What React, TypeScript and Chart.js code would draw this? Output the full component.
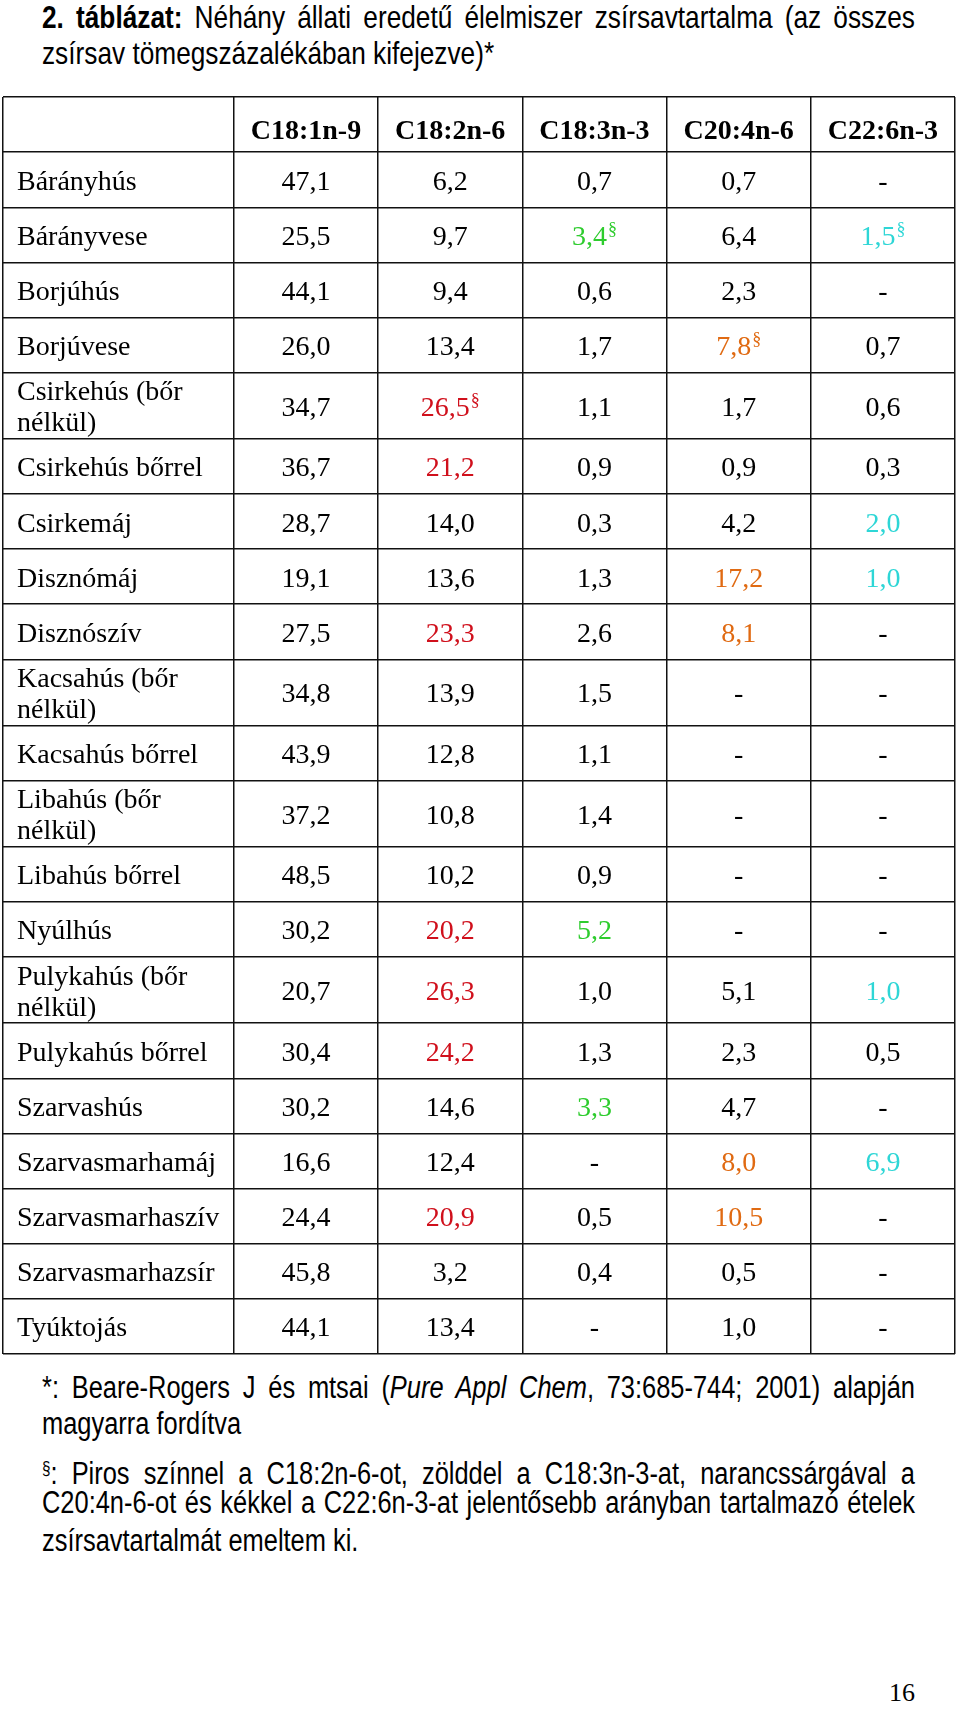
import React, { useEffect, useRef } from "react";
import { Chart, registerables } from "chart.js";

Chart.register(...registerables);

// ---------- data ----------
const columns = ["C18:1n-9", "C18:2n-6", "C18:3n-3", "C20:4n-6", "C22:6n-3"];

const foods = [
  "Bárányhús",
  "Bárányvese",
  "Borjúhús",
  "Borjúvese",
  "Csirkehús (bőr nélkül)",
  "Csirkehús bőrrel",
  "Csirkemáj",
  "Disznómáj",
  "Disznószív",
  "Kacsahús (bőr nélkül)",
  "Kacsahús bőrrel",
  "Libahús (bőr nélkül)",
  "Libahús bőrrel",
  "Nyúlhús",
  "Pulykahús (bőr nélkül)",
  "Pulykahús bőrrel",
  "Szarvashús",
  "Szarvasmarhamáj",
  "Szarvasmarhaszív",
  "Szarvasmarhazsír",
  "Tyúktojás",
];

const c18_1 = [47.1, 25.5, 44.1, 26.0, 34.7, 36.7, 28.7, 19.1, 27.5, 34.8, 43.9, 37.2, 48.5, 30.2, 20.7, 30.4, 30.2, 16.6, 24.4, 45.8, 44.1];
const c18_2 = [6.2, 9.7, 9.4, 13.4, 26.5, 21.2, 14.0, 13.6, 23.3, 13.9, 12.8, 10.8, 10.2, 20.2, 26.3, 24.2, 14.6, 12.4, 20.9, 3.2, 13.4];
const c18_3 = [0.7, 3.4, 0.6, 1.7, 1.1, 0.9, 0.3, 1.3, 2.6, 1.5, 1.1, 1.4, 0.9, 5.2, 1.0, 1.3, 3.3, null, 0.5, 0.4, null];
const c20_4 = [0.7, 6.4, 2.3, 7.8, 1.7, 0.9, 4.2, 17.2, 8.1, null, null, null, null, null, 5.1, 2.3, 4.7, 8.0, 10.5, 0.5, 1.0];
const c22_6 = [null, 1.5, null, 0.7, 0.6, 0.3, 2.0, 1.0, null, null, null, null, null, null, 1.0, 0.5, null, 6.9, null, null, null];

// highlighted cells (row indices) per column
const hi18_1: number[] = [];
const hi18_2 = [4, 5, 8, 13, 14, 15, 18];
const hi18_3 = [1, 13, 16];
const hi20_4 = [3, 7, 8, 17, 18];
const hi22_6 = [1, 6, 7, 14, 17];

// cells marked with "§"
const mark18_1: number[] = [];
const mark18_2 = [4];
const mark18_3 = [1];
const mark20_4 = [3];
const mark22_6 = [1];

const columnValues = [c18_1, c18_2, c18_3, c20_4, c22_6];
const columnHighlights = [hi18_1, hi18_2, hi18_3, hi20_4, hi22_6];
const columnMarks = [mark18_1, mark18_2, mark18_3, mark20_4, mark22_6];
const highlightColors = ["#000000", "#d0101c", "#2ecc2e", "#e06a12", "#2ed6d6"];

// ---------- style / layout ----------
const SERIF = '"Liberation Serif", "Times New Roman", serif';
const SANS = '"Liberation Sans", Arial, sans-serif';
const LINE = "#111111";
const LABEL_SPAN = 1.6; // width of food column in data-column units
const LABEL_MAX_W = 210;
const fmt = (v: number | null) => (v == null ? "-" : v.toFixed(1).replace(".", ","));

function wrapLabel(ctx: CanvasRenderingContext2D, text: string): string[] {
  const words = text.split(" ");
  const lines: string[] = [];
  let cur = "";
  for (const w of words) {
    const test = cur ? cur + " " + w : w;
    if (cur && ctx.measureText(test).width > LABEL_MAX_W) {
      lines.push(cur);
      cur = w;
    } else cur = test;
  }
  if (cur) lines.push(cur);
  return lines;
}

function TableChart() {
  const ref = useRef<HTMLCanvasElement | null>(null);
  useEffect(() => {
    const canvas = ref.current;
    if (!canvas) return;
    const mctx = document.createElement("canvas").getContext("2d")!;
    mctx.font = `28px ${SERIF}`;
    const rowLines = foods.map((f) => wrapLabel(mctx, f));
    const weights = [1, ...rowLines.map((l) => (l.length > 1 ? 1.2 : 1))];
    const bounds: number[] = [0];
    weights.forEach((w) => bounds.push(bounds[bounds.length - 1] + w));
    const total = bounds[bounds.length - 1];
    const rowCenters = foods.map((_, i) => (bounds[i + 1] + bounds[i + 2]) / 2);
    const xBounds = [-LABEL_SPAN, 0, 1, 2, 3, 4, 5];

    const datasets = columns.map((name, ci) => ({
      label: name,
      data: foods.map((_, ri) => ({
        x: ci + 0.5,
        y: rowCenters[ri],
        t: fmt(columnValues[ci][ri]),
        c: columnHighlights[ci].includes(ri) ? highlightColors[ci] : "#000000",
        m: columnMarks[ci].includes(ri),
      })),
      pointRadius: 0,
      pointHoverRadius: 0,
    }));

    const textPlugin = {
      id: "tableText",
      afterDraw(chart: any) {
        const { ctx } = chart;
        const xs = chart.scales.x;
        const ys = chart.scales.y;
        ctx.save();
        ctx.textBaseline = "alphabetic";
        // header
        ctx.fillStyle = "#000";
        ctx.textAlign = "center";
        ctx.font = `bold 28px ${SERIF}`;
        const hy = ys.getPixelForValue((bounds[0] + bounds[1]) / 2) + 14;
        columns.forEach((c, ci) => ctx.fillText(c, xs.getPixelForValue(ci + 0.5), hy));
        // food labels
        ctx.textAlign = "left";
        ctx.font = `28px ${SERIF}`;
        const x0 = xs.getPixelForValue(-LABEL_SPAN) + 14;
        rowLines.forEach((lines, ri) => {
          const cy = ys.getPixelForValue(rowCenters[ri]);
          lines.forEach((ln, li) => {
            ctx.fillText(ln, x0, cy + 10 + (li - (lines.length - 1) / 2) * 31);
          });
        });
        // values
        chart.data.datasets.forEach((ds: any, di: number) => {
          const meta = chart.getDatasetMeta(di);
          meta.data.forEach((pt: any, ri: number) => {
            const raw = ds.data[ri];
            ctx.font = `28px ${SERIF}`;
            const w = ctx.measureText(raw.t).width;
            ctx.font = `18px ${SERIF}`;
            const mw = raw.m ? ctx.measureText("§").width + 1 : 0;
            const left = pt.x - (w + mw) / 2;
            ctx.fillStyle = raw.c;
            ctx.font = `28px ${SERIF}`;
            ctx.fillText(raw.t, left, pt.y + 10);
            if (raw.m) {
              ctx.font = `18px ${SERIF}`;
              ctx.fillText("§", left + w + 1, pt.y);
            }
          });
        });
        ctx.restore();
      },
    };

    const chart = new Chart(canvas, {
      type: "scatter",
      data: { datasets: datasets as any },
      options: {
        animation: false,
        responsive: false,
        maintainAspectRatio: false,
        events: [],
        layout: { padding: { left: 3, right: 5, top: 7, bottom: 16 } },
        plugins: { legend: { display: false }, tooltip: { enabled: false } },
        scales: {
          x: {
            type: "linear",
            min: -LABEL_SPAN,
            max: 5,
            ticks: { display: false },
            grid: { color: LINE, lineWidth: 1.5, drawTicks: false },
            border: { display: false },
            afterBuildTicks: (s: any) => {
              s.ticks = xBounds.map((v) => ({ value: v }));
            },
          },
          y: {
            type: "linear",
            min: 0,
            max: total,
            reverse: true,
            ticks: { display: false },
            grid: { color: LINE, lineWidth: 1.5, drawTicks: false },
            border: { display: false },
            afterBuildTicks: (s: any) => {
              s.ticks = bounds.map((v) => ({ value: v }));
            },
          },
        },
      } as any,
      plugins: [textPlugin],
    });
    return () => chart.destroy();
  }, []);
  return (
    <canvas
      ref={ref}
      width={960}
      height={1280}
      style={{ position: "absolute", left: 0, top: 90, width: 960, height: 1280, display: "block" }}
    />
  );
}

const NARROW = 0.82;
const TEXT_LEFT = 42;
const TEXT_W = 873;

function Line({
  baseline,
  justify,
  size = 31,
  children,
}: {
  baseline: number;
  justify?: boolean;
  size?: number;
  children: React.ReactNode;
}) {
  return (
    <div
      style={{
        position: "absolute",
        left: TEXT_LEFT,
        top: baseline - size * 0.88,
        width: TEXT_W / NARROW,
        font: `${size}px ${SANS}`,
        lineHeight: `${size * 1.065}px`,
        whiteSpace: "nowrap",
        color: "#000",
        textAlign: justify ? "justify" : "left",
        textAlignLast: justify ? "justify" : "left",
        transform: `scaleX(${NARROW})`,
        transformOrigin: "0 0",
      } as React.CSSProperties}
    >
      {children}
    </div>
  );
}

export default function App() {
  return (
    <div style={{ position: "absolute", left: 0, top: 0, width: 960, height: 1733, overflow: "hidden", background: "#fff" }}>
      <Line baseline={28} size={32} justify>
        <span style={{ whiteSpace: "normal" }}>
          <b>2. táblázat:</b> Néhány állati eredetű élelmiszer zsírsavtartalma (az összes
        </span>
      </Line>
      <Line baseline={64} size={32}>zsírsav tömegszázalékában kifejezve)*</Line>
      <TableChart />
      <Line baseline={1398} justify>
        <span style={{ whiteSpace: "normal" }}>
          *: Beare-Rogers J és mtsai (<i>Pure Appl Chem</i>, 73:685-744; 2001) alapján
        </span>
      </Line>
      <Line baseline={1434}>magyarra fordítva</Line>
      <Line baseline={1478} justify>
        <span style={{ whiteSpace: "normal" }}>
          <span style={{ fontSize: "60%", verticalAlign: "10px" }}>§</span>: Piros színnel a C18:2n-6-ot, zölddel a C18:3n-3-at, narancssárgával a
        </span>
      </Line>
      <Line baseline={1513} justify>
        <span style={{ whiteSpace: "normal" }}>
          C20:4n-6-ot és kékkel a C22:6n-3-at jelentősebb arányban tartalmazó ételek
        </span>
      </Line>
      <Line baseline={1551}>zsírsavtartalmát emeltem ki.</Line>
      <div
        style={{
          position: "absolute",
          right: 45,
          top: 1678,
          font: `26px ${SERIF}`,
          lineHeight: "30px",
          color: "#000",
        }}
      >
        16
      </div>
    </div>
  );
}
